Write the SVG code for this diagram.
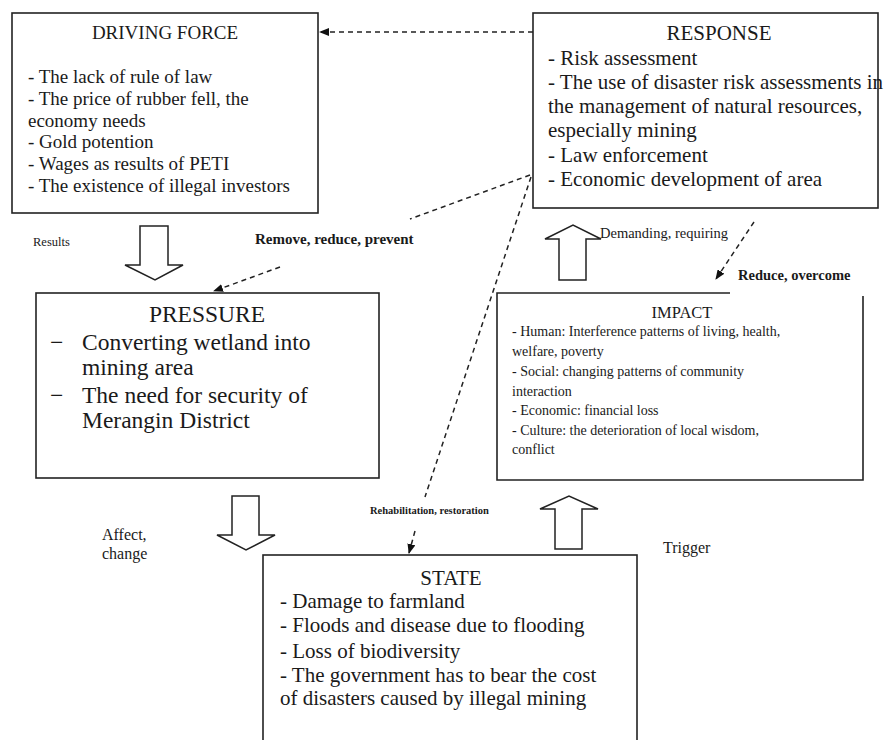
<svg xmlns="http://www.w3.org/2000/svg" width="894" height="740" viewBox="0 0 894 740">
<defs>
<style>
.box{fill:#fff;stroke:#222;stroke-width:1.6}
.blk{fill:#fff;stroke:#222;stroke-width:1.5;stroke-linejoin:miter}
.t{font-family:"Liberation Serif","Times New Roman",serif;fill:#1a1a1a}
.dash{fill:none;stroke:#222;stroke-width:1.5;stroke-dasharray:5,4}
.b{font-weight:bold}
</style>
<marker id="ah" markerWidth="10" markerHeight="8" refX="9" refY="4" orient="auto" markerUnits="userSpaceOnUse">
<path d="M0,0 L10,4 L0,8 z" fill="#111"/>
</marker>
</defs>
<rect width="894" height="740" fill="#fff"/>

<g id="connectors">
<path class="dash" d="M533,32 L320,32" marker-end="url(#ah)"/>
<path class="dash" d="M530,175 L410,219"/>
<path class="dash" d="M280,267 L214,291" marker-end="url(#ah)"/>
<path class="dash" d="M531,177 L425,497"/>
<path class="dash" d="M415,531 L409,553" marker-end="url(#ah)"/>
<path class="dash" d="M754,222 L716,279" marker-end="url(#ah)"/>
<polygon class="blk" points="140,226 168,226 168,265 183,265 155,280 125,265 140,265"/>
<polygon class="blk" points="232,496 259,496 259,535 275,535 246,550 217,535 232,535"/>
<polygon class="blk" points="555,549 582,549 582,509 598,509 569,496 540,509 555,509"/>
<polygon class="blk" points="559,280 586,280 586,239 601,239 573,225 545,239 559,239"/>
</g>

<g id="driving-force">
<rect class="box" x="12" y="13" width="306" height="200"/>
<text class="t" x="165" y="39" font-size="19" text-anchor="middle">DRIVING FORCE</text>
<g class="t" font-size="19">
<text x="28" y="83">- The lack of rule of law</text>
<text x="28" y="105">- The price of rubber fell, the</text>
<text x="28" y="127">economy needs</text>
<text x="28" y="148">- Gold potention</text>
<text x="28" y="170">- Wages as results of PETI</text>
<text x="28" y="192">- The existence of illegal investors</text>
</g>
</g>

<g id="response">
<rect class="box" x="533" y="13" width="345" height="195"/>
<text class="t" x="719" y="40" font-size="21" text-anchor="middle">RESPONSE</text>
<g class="t" font-size="21">
<text x="548" y="65">- Risk assessment</text>
<text x="548" y="89">- The use of disaster risk assessments in</text>
<text x="548" y="113">the management of natural resources,</text>
<text x="548" y="137">especially mining</text>
<text x="548" y="162">- Law enforcement</text>
<text x="548" y="186">- Economic development of area</text>
</g>
</g>

<g id="pressure">
<rect class="box" x="36" y="293" width="343" height="185"/>
<text class="t" x="207" y="322" font-size="23.5" text-anchor="middle">PRESSURE</text>
<g class="t" font-size="23.5">
<text x="50" y="350">−</text>
<text x="82" y="350">Converting wetland into</text>
<text x="82" y="375">mining area</text>
<text x="50" y="403">−</text>
<text x="82" y="403">The need for security of</text>
<text x="82" y="428">Merangin District</text>
</g>
</g>

<g id="impact">
<path class="box" d="M730,293 H497 V480 H863 V296"/>
<text class="t" x="682" y="318" font-size="16.5" text-anchor="middle">IMPACT</text>
<g class="t" font-size="14">
<text x="512" y="336">- Human: Interference patterns of living, health,</text>
<text x="512" y="356">welfare, poverty</text>
<text x="512" y="376">- Social: changing patterns of community</text>
<text x="512" y="396">interaction</text>
<text x="512" y="415">- Economic: financial loss</text>
<text x="512" y="435">- Culture: the deterioration of local wisdom,</text>
<text x="512" y="454">conflict</text>
</g>
</g>

<g id="state">
<rect class="box" x="263" y="555" width="374" height="200"/>
<text class="t" x="451" y="585" font-size="21" text-anchor="middle">STATE</text>
<g class="t" font-size="21">
<text x="280" y="608">- Damage to farmland</text>
<text x="280" y="632">- Floods and disease due to flooding</text>
<text x="280" y="658">- Loss of biodiversity</text>
<text x="280" y="682">- The government has to bear the cost</text>
<text x="280" y="705">of disasters caused by illegal mining</text>
</g>
</g>

<g id="labels" class="t">
<text x="33" y="246" font-size="12.5">Results</text>
<text class="b" x="255" y="244" font-size="15">Remove, reduce, prevent</text>
<text x="600" y="238" font-size="14.5">Demanding, requiring</text>
<text class="b" x="738" y="280" font-size="14.5">Reduce, overcome</text>
<text x="102" y="540" font-size="16">Affect,</text>
<text x="102" y="559" font-size="16">change</text>
<text class="b" x="370" y="514" font-size="10.5">Rehabilitation, restoration</text>
<text x="663" y="553" font-size="16">Trigger</text>
</g>
</svg>
